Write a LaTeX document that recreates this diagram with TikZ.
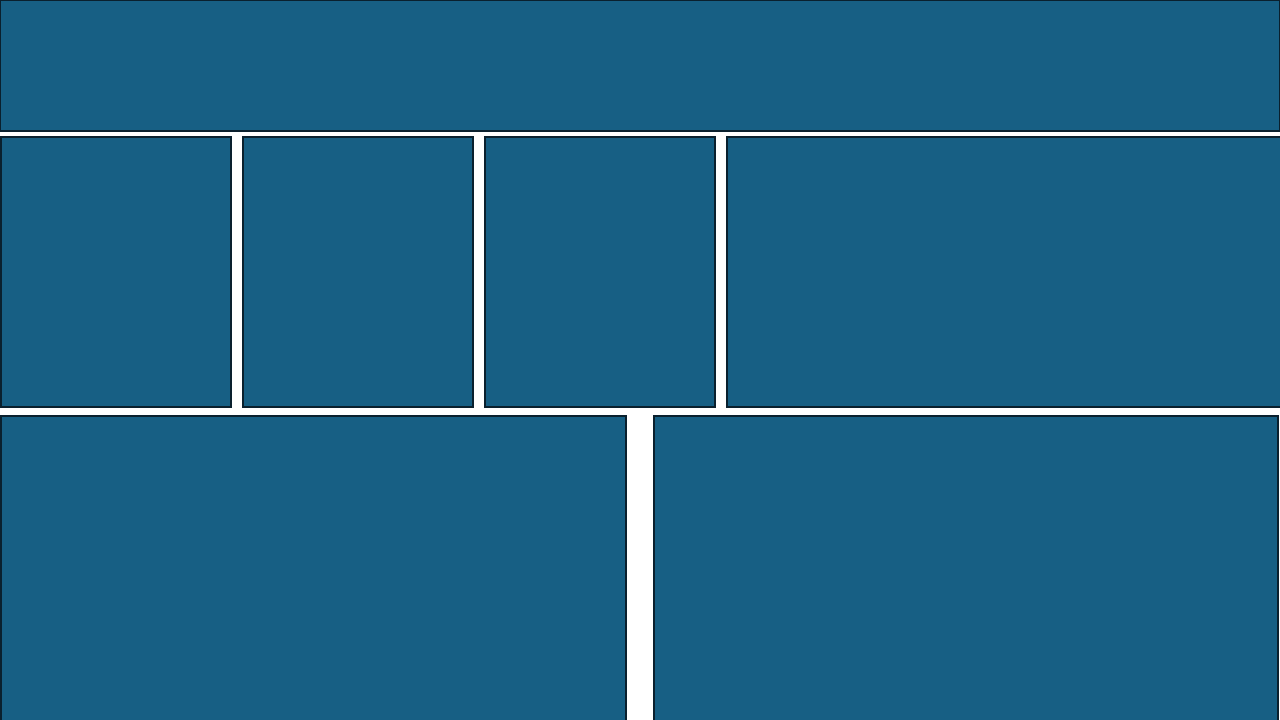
\documentclass[tikz,border=0pt]{standalone}
\definecolor{panelfill}{RGB}{23,95,132}
\definecolor{panelline}{RGB}{10,32,46}
\tikzset{
  panel/.style={draw=panelline, fill=panelfill, line width=0.02cm, inner sep=0pt, outer sep=0pt, anchor=north west, rectangle},
}
\newcommand{\panelbox}[5]{% name, x1, y1, x2, y2 in px (y from top)
  \node[panel, minimum width={(#4-#2)*0.01cm}, minimum height={(#5-#3)*0.01cm}] (#1) at ({#2*0.01},{(720-#3)*0.01}) {};
}
\begin{document}
\begin{tikzpicture}
\useasboundingbox (0,0) rectangle (12.8,7.2);
\clip (0,0) rectangle (12.8,7.2);
\node[panel, line width=0.012cm, minimum width=12.79cm, minimum height=1.305cm] (top) at (0.005,7.195) {};
\panelbox{ra}{1}{137}{231}{407}
\panelbox{rb}{243}{137}{473}{407}
\panelbox{rc}{485}{137}{715}{407}
\panelbox{rd}{727}{137}{1282}{407}
\panelbox{ba}{1}{416}{626}{722}
\panelbox{bb}{654}{416}{1279}{722}
\end{tikzpicture}
\end{document}
